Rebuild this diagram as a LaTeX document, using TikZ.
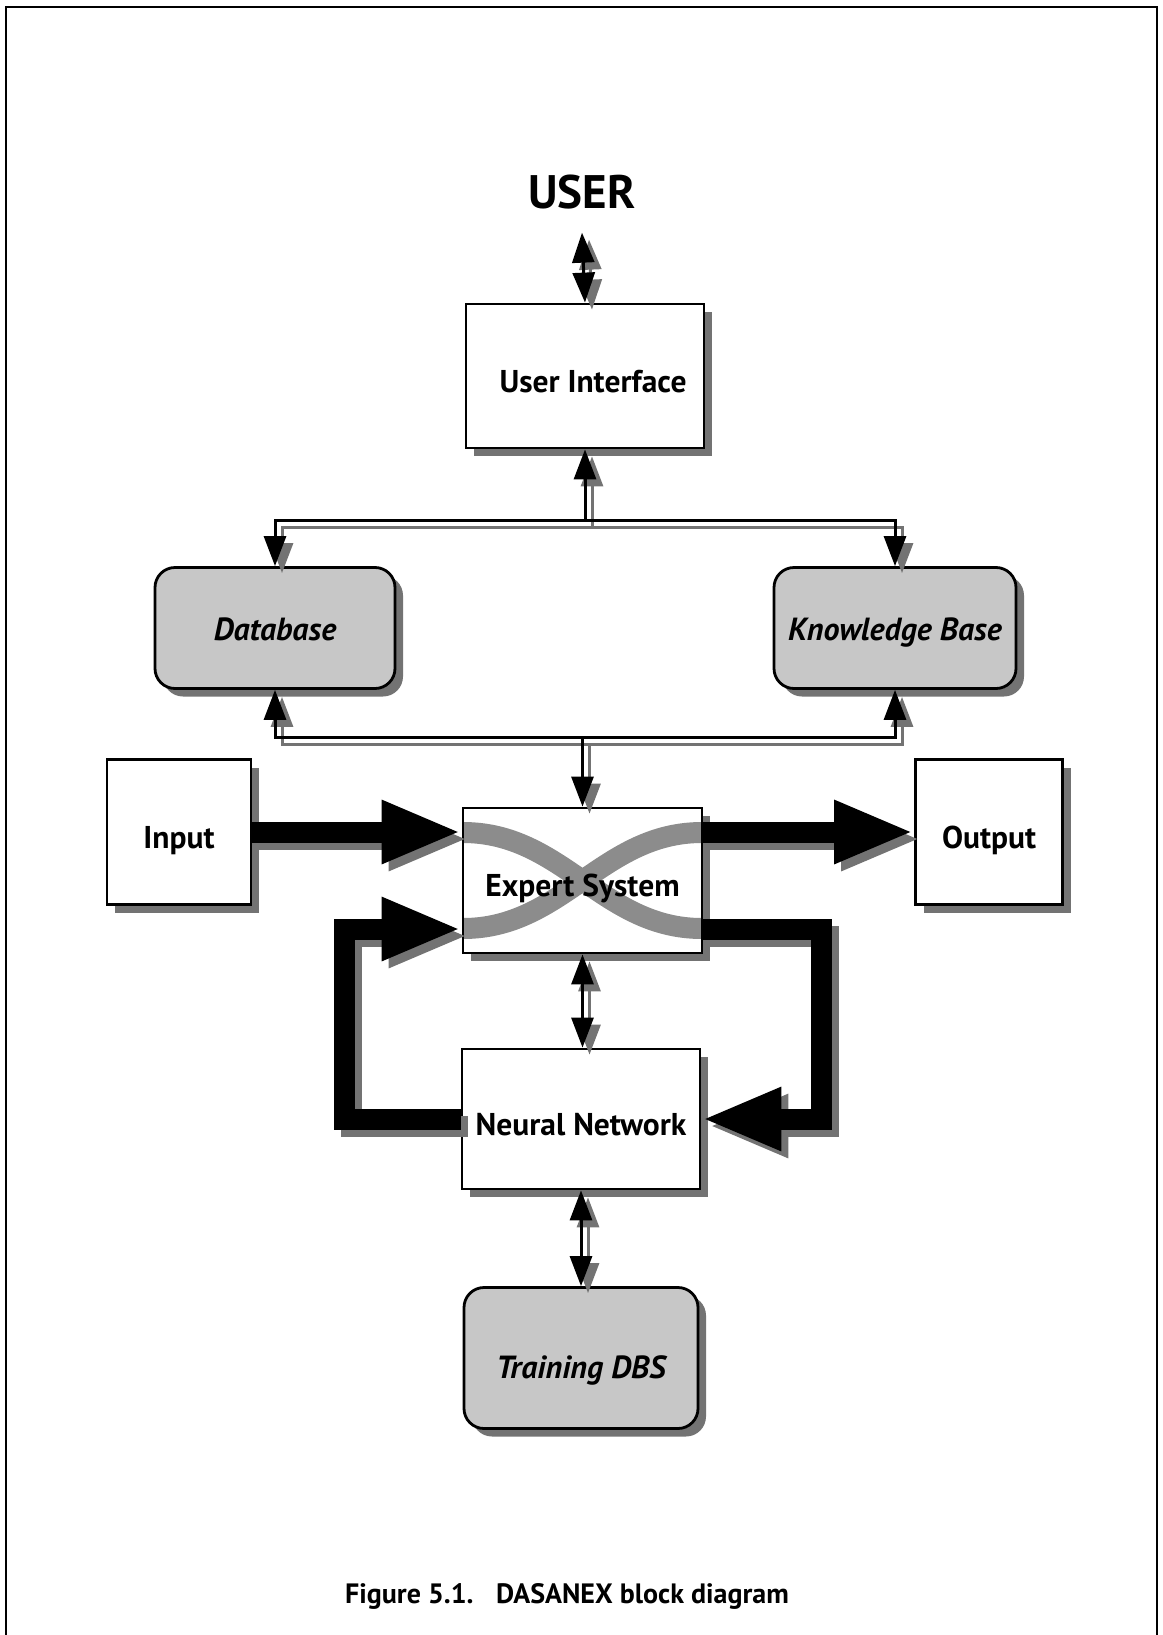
\documentclass[tikz,border=0pt]{standalone}
\usepackage{fontspec}
\setmainfont{PT Sans}
\usetikzlibrary{arrows.meta,calc,shadows}

\definecolor{shade}{gray}{0.45}
\definecolor{store}{gray}{0.78}
\definecolor{band}{gray}{0.55}

\begin{document}
\begin{tikzpicture}[x=1pt,y=-1pt,
  >={Triangle[length=30pt,width=22pt]},
  boxshadow/.style={general shadow={fill=shade, shadow xshift=8pt, shadow yshift=-8pt}},
  box/.style={draw, line width=2.8pt, fill=white, boxshadow, inner sep=0pt,
    text height=32pt, text depth=0pt,
    font=\fontsize{31.5pt}{36pt}\selectfont\bfseries},
  storebox/.style={box, fill=store, rounded corners=20pt, text height=24pt,
    font=\fontsize{32pt}{36pt}\selectfont\bfseries\itshape},
  link/.style={line width=3pt},
  flow/.style={line width=21pt, line join=miter, -{Triangle[length=80pt,width=58pt]}},
  crossband/.style={draw=band, line width=21pt},
]
\useasboundingbox (0,0) rectangle (1162,1635);

% page frame (open at the bottom)
\draw[line width=2pt] (6,1635) -- (6,7) -- (1157,7) -- (1157,1635);

% blocks
\node[font=\fontsize{47pt}{52pt}\selectfont\bfseries, inner sep=0pt, outer ysep=24pt, anchor=base]
  (user) at (582,208) {USER};
\node[box, minimum width=238pt, minimum height=144pt] (ui) at (585,376)
  {\hspace*{16pt}User Interface};
\node[storebox, minimum width=240pt, minimum height=121pt] (db) at (275,628) {Database};
\node[storebox, minimum width=242pt, minimum height=121pt] (kb) at (895,628) {Knowledge Base};
\node[box, minimum width=144pt, minimum height=145pt] (input) at (179,832) {Input};
\node[box, minimum width=147pt, minimum height=145pt] (output) at (989,832) {Output};
\node[box, minimum width=239pt, minimum height=145pt,
  path picture={
    \draw[crossband] ($(path picture bounding box.west)+(0,-48)$)
      .. controls +(100,0) and +(-100,0) .. ($(path picture bounding box.east)+(0,48)$);
    \draw[crossband] ($(path picture bounding box.west)+(0,48)$)
      .. controls +(100,0) and +(-100,0) .. ($(path picture bounding box.east)+(0,-48)$);
  }] (es) at (582.5,880.5) {Expert System};
\node[box, minimum width=238pt, minimum height=140pt] (nn) at (581,1119) {Neural Network};
\node[storebox, minimum width=234pt, minimum height=141pt, text height=40pt]
  (tdbs) at (581,1358) {Training DBS};

\node[font=\fontsize{28pt}{32pt}\selectfont\bfseries, anchor=base] (caption) at (567,1603)
  {Figure 5.1.\hspace{0.8em}DASANEX block diagram};

% bus junctions and flow levels
\coordinate (topbus) at (585,520);
\coordinate (botbus) at (582.5,737);
\coordinate (upper) at (0,832);
\coordinate (lower) at (0,929);
\coordinate (leftrun) at (344,0);
\coordinate (rightrun) at (821,0);

% connectors: a grey shadow pass, then the black pass
\foreach \col/\d in {shade/7, black/0} {
  \begin{scope}[transform canvas={shift={(\d pt,-\d pt)}}, color=\col]
    \draw[link, <->] (user.south) -- (ui.north);
    \draw[link, ->] (topbus) -- (ui.south);
    \draw[link, ->] (topbus) -| (db.north);
    \draw[link, ->] (topbus) -| (kb.north);
    \draw[link, ->] (botbus) -- (es.north);
    \draw[link, ->] (botbus) -| (db.south);
    \draw[link, ->] (botbus) -| (kb.south);
    \draw[link, <->] (es.south) -- (es.south |- nn.north);
    \draw[link, <->] (nn.south) -- (nn.south |- tdbs.north);
    \draw[flow] (input.east |- upper) -- (es.west |- upper);
    \draw[flow] (es.east |- upper) -- (output.west |- upper);
    \draw[flow] (nn.west) -| (leftrun |- lower) -- (es.west |- lower);
    \draw[flow] (es.east |- lower) -| (rightrun |- nn.east) -- (nn.east);
  \end{scope}
}
\end{tikzpicture}
\end{document}
